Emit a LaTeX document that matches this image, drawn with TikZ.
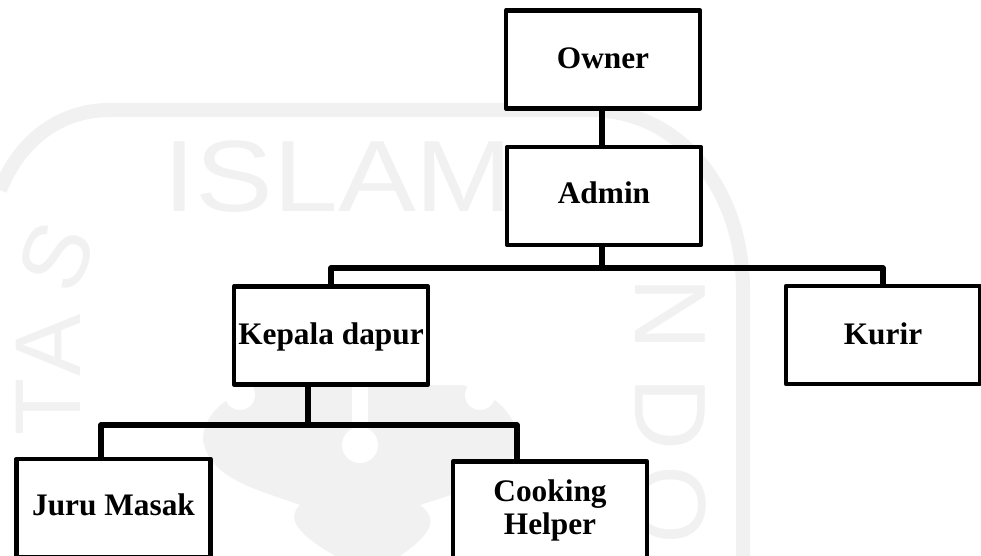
\documentclass[tikz,border=0pt]{standalone}
\usepackage{fontspec}
\setmainfont{Liberation Serif}
\setsansfont{Liberation Sans}
\usepackage{xcolor}
\usetikzlibrary{positioning, calc}
\definecolor{markgray}{HTML}{F1F1F1}
\tikzset{
    jobbox/.style={draw, fill=white, line width=3.6pt, minimum width=145.5pt, minimum height=73.5pt,
        inner sep=0pt, outer sep=0pt, align=center, line join=round,
        font=\fontsize{23.5}{25}\selectfont\bfseries},
    textbase/.style={text height=16pt, text depth=#1},
    orgline/.style={line width=3.8pt, line join=round},
    markline/.style={draw=markgray, line width=10.5pt},
    markword/.style={text=markgray, font=\fontsize{76}{76}\selectfont\sffamily, inner sep=0pt},
    markedge/.style={text=markgray, font=\fontsize{70}{70}\selectfont\sffamily, inner sep=0pt}
}

\begin{document}
\begin{tikzpicture}[x=0.75pt, y=-0.75pt]
    \path[use as bounding box, clip] (0,0) rectangle (981,556);
    \fill[white] (0,0) rectangle (981,556);

    % Watermark ring
    \draw[markline] (0,190) .. controls (20,140) and (60,110) .. (110,110) -- (590,110)
        .. controls (680,110) and (743,190) .. (743,290) -- (743,560);

    % Watermark letters
    \node[markword, anchor=west] (wordislam) at (163,177) {\scalebox{1.15}[1]{ISLAM}};
    \node[markedge, rotate=68] (letters) at (56,257) {S};
    \node[markedge, rotate=90] (lettera) at (48,345) {A};
    \node[markedge, rotate=90] (lettert) at (48,407) {T};
    \node[markword, rotate=-90] (lettern) at (670,314) {N};
    \node[markword, rotate=-90] (letterd) at (670,414) {D};
    \node[markword, rotate=-90] (lettero) at (670,505) {O};

    % Watermark emblem
    \fill[markgray] (203,440) .. controls (203,415) and (225,395) .. (262,385) -- (462,385)
        .. controls (500,395) and (520,420) .. (517,445) .. controls (510,480) and (465,490) .. (420,505)
        .. controls (440,520) and (430,535) .. (400,556) -- (335,556)
        .. controls (300,535) and (285,520) .. (300,505) .. controls (260,490) and (210,480) .. (203,440) -- cycle;
    \fill[white] (240,395) circle (15);
    \fill[white] (480,395) circle (15);
    \fill[white] (352,380) rectangle (368,445);
    \fill[white] (360,445) circle (18);

    % Boxes
    \node[jobbox, textbase=3.2pt] (owner) at (603,59.5) {Owner};
    \node[jobbox, textbase=5.5pt] (admin) at (604,196) {Admin};
    \node[jobbox, textbase=1.8pt] (kepala) at (331,335.5) {Kepala dapur};
    \node[jobbox, textbase=2.5pt] (kurir) at (883,335) {Kurir};
    \node[jobbox, textbase=4.6pt] (juru) at (113.5,508) {Juru Masak};
    \node[jobbox] (helper) at (550,510.5) {Cooking\\Helper};

    % Bus lines
    \coordinate (busa) at (602,268);
    \coordinate (busb) at (308,425);
    \coordinate (jurudrop) at (101,459);
    \coordinate (helperdrop) at (517,461);

    \draw[orgline] (602,0 |- owner.south) -- (602,0 |- admin.north);
    \draw[orgline] (602,0 |- admin.south) -- (busa);
    \draw[orgline] (kepala.north) |- (busa) -| (kurir.north);
    \draw[orgline] (busb |- kepala.south) -- (busb);
    \draw[orgline] (jurudrop) |- (busb) -| (helperdrop);
\end{tikzpicture}
\end{document}
